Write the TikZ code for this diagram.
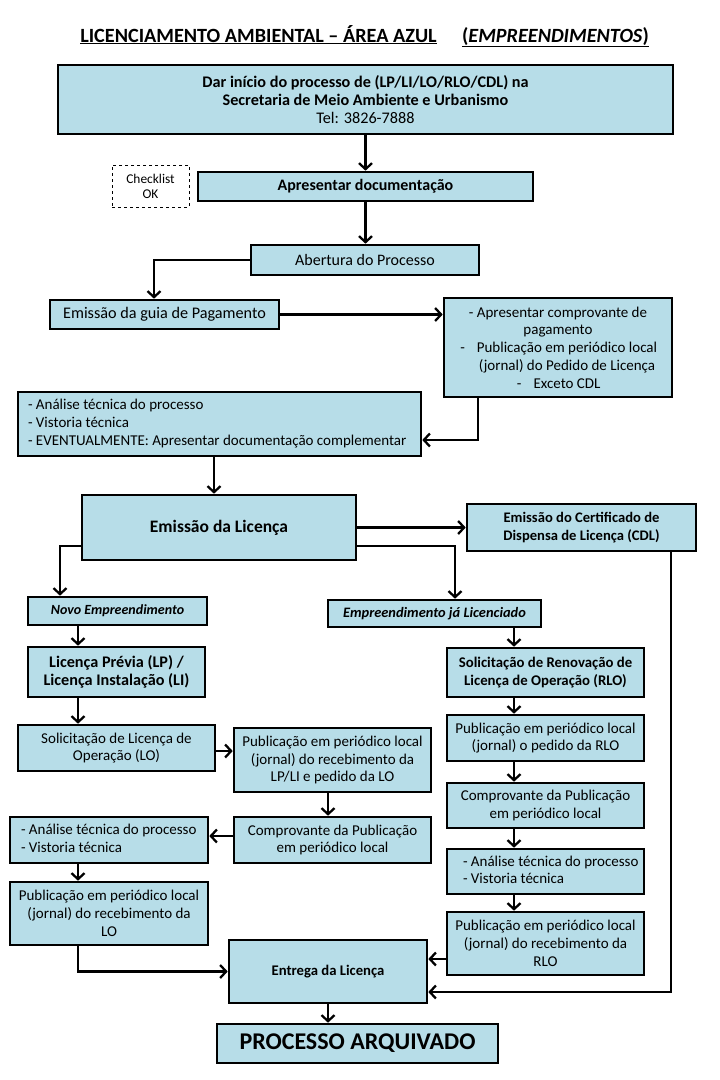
\documentclass[tikz,border=0pt]{standalone}
\usepackage{fontspec}
\setmainfont{Carlito}
\usetikzlibrary{arrows.meta}
\definecolor{boxblue}{HTML}{B7DDE8}
\newcommand{\fs}[2]{\fontsize{#1}{#2}\selectfont}
\newcommand{\lefttab}[2]{\makebox[#1][l]{\begin{tabular}{@{}l@{}}#2\end{tabular}}}
\begin{document}
\begin{tikzpicture}[x=1pt,y=-1pt,
  box/.style={draw=black, line width=2.6pt, fill=boxblue, inner sep=0pt, align=center, font=\fs{15}{17.8}},
  dbox/.style={draw=black, line width=0.8pt, dashed, fill=white, inner sep=0pt, align=center, font=\fs{13.4}{15}},
  conn/.style={line width=2.4pt, -{Straight Barb[length=6pt,width=13pt,line width=2.3pt]}},
  ttl/.style={font=\bfseries\fs{20.2}{22}, anchor=base, inner sep=0pt}
]
\useasboundingbox[fill=white] (0,0) rectangle (720,1080);

% title
\node[ttl] (t1) at (258.5,42) {\underline{LICENCIAMENTO AMBIENTAL -- ÁREA AZUL}};
\node[ttl] (t2) at (555.5,42) {\underline{(\textit{EMPREENDIMENTOS})}};

% boxes
\node[box, minimum width=615, minimum height=69, font=\fs{16.2}{18.3}] (b1) at (365.5,99.5)
  {\textbf{Dar início do processo de (LP/LI/LO/RLO/CDL) na}\\\textbf{Secretaria de Meio Ambiente e Urbanismo}\\Tel: 3826-7888};
\node[dbox, minimum width=77, minimum height=42] (chk) at (150.5,186) {Checklist\\OK};
\node[box, minimum width=335, minimum height=29, font=\bfseries\fs{16}{18}] (b2) at (365.5,186.5) {Apresentar documentação};
\node[box, minimum width=228, minimum height=30, font=\fs{16}{18}] (b3) at (365,260) {Abertura do Processo};
\node[box, minimum width=229, minimum height=29, font=\fs{16.2}{18}] (b4) at (164.5,314.5) {Emissão da guia de Pagamento};
\node[box, minimum width=228, minimum height=99] (b5) at (558,347.5)
  {- Apresentar comprovante de\\pagamento\\
   \hspace*{18pt}\llap{-\hspace{12pt}}Publicação em periódico local\\
   \hspace*{18pt}(jornal) do Pedido de Licença\\
   \hspace*{18pt}\llap{-\hspace{12pt}}Exceto CDL};
\node[box, minimum width=403, minimum height=64] (b6) at (219.5,424)
  {\lefttab{383pt}{- Análise técnica do processo\\- Vistoria técnica\\- EVENTUALMENTE: Apresentar documentação complementar}};
\node[box, minimum width=274, minimum height=65, font=\bfseries\fs{17.5}{20}] (b7) at (219,527.5) {Emissão da Licença};
\node[box, minimum width=229, minimum height=47, font=\bfseries\fs{14.6}{17.5}] (b8) at (581.5,527.5)
  {Emissão do Certificado de\\Dispensa de Licença (CDL)};
\node[box, minimum width=179, minimum height=28, font=\bfseries\itshape\fs{14}{17}] (novo) at (117.5,611) {Novo Empreendimento};
\node[box, minimum width=213, minimum height=27, font=\bfseries\itshape\fs{14.4}{17}] (ja) at (434.5,613.5) {Empreendimento já Licenciado};
\node[box, minimum width=177, minimum height=50, font=\bfseries\fs{16.2}{18.3}] (lp) at (116.5,672)
  {Licença Prévia (LP) /\\Licença Instalação (LI)};
\node[box, minimum width=197, minimum height=49, font=\bfseries\fs{14.8}{17.8}] (rlo) at (545.5,672.5)
  {Solicitação de Renovação de\\Licença de Operação (RLO)};
\node[box, minimum width=197, minimum height=46] (solLO) at (116.5,748) {Solicitação de Licença de\\Operação (LO)};
\node[box, minimum width=197, minimum height=64] (pubLP) at (332.5,760)
  {Publicação em periódico local\\(jornal) do recebimento da\\LP/LI e pedido da LO};
\node[box, minimum width=197, minimum height=46] (compL) at (332.5,840) {Comprovante da Publicação\\em periódico local};
\node[box, minimum width=198, minimum height=46] (anaL) at (109,840)
  {\lefttab{176pt}{- Análise técnica do processo\\- Vistoria técnica}};
\node[box, minimum width=198, minimum height=63] (pubLO) at (109,913.5)
  {Publicação em periódico local\\(jornal) do recebimento da\\LO};
\node[box, minimum width=197, minimum height=46] (pubR) at (545.5,738) {Publicação em periódico local\\(jornal) o pedido da RLO};
\node[box, minimum width=197, minimum height=45] (compR) at (545.5,805.5) {Comprovante da Publicação\\em periódico local};
\node[box, minimum width=197, minimum height=45] (anaR) at (545.5,871.5)
  {\lefttab{165pt}{- Análise técnica do processo\\- Vistoria técnica}};
\node[box, minimum width=197, minimum height=63] (pubRR) at (545.5,943.5)
  {Publicação em periódico local\\(jornal) do recebimento da\\RLO};
\node[box, minimum width=198, minimum height=63, font=\bfseries\fs{14.7}{17}] (entrega) at (328,971.5) {Entrega da Licença};
\node[box, minimum width=281, minimum height=39, font=\bfseries\fs{24}{27}] (arq) at (357.5,1043.5) {PROCESSO ARQUIVADO};

% connectors
\draw[conn] (b1.south) -- (b1.south |- b2.north);
\draw[conn] (b2.south) -- (b2.south |- b3.north);
\draw[conn] (b3.west) -| ([xshift=-10.5pt]b4.north);
\draw[conn] (b4.east) -- (b4.east -| b5.west);
\draw[conn] ([xshift=-80pt]b5.south) |- ([yshift=-16pt]b6.east);
\draw[conn] ([xshift=-5.5pt]b6.south) -- ([xshift=-5.5pt]b6.south |- b7.north);
\draw[conn] (b7.east) -- (b7.east -| b8.west);
\draw[conn] ([yshift=-18.5pt]b7.west) -| ([xshift=-57.5pt]novo.north);
\draw[conn] ([yshift=-18.5pt]b7.east) -| ([xshift=20.5pt]ja.north);
\draw[conn] ([xshift=-39.5pt]novo.south) -- ([xshift=-39.5pt]novo.south |- lp.north);
\draw[conn] ([xshift=79.5pt]ja.south) -- ([xshift=79.5pt]ja.south |- rlo.north);
\draw[conn] ([xshift=-38.5pt]lp.south) -- ([xshift=-38.5pt]lp.south |- solLO.north);
\draw[conn] ([yshift=-3pt]solLO.east) -- ([yshift=-3pt]solLO.east -| pubLP.west);
\draw[conn] ([xshift=-4.5pt]pubLP.south) -- ([xshift=-4.5pt]pubLP.south |- compL.north);
\draw[conn] ([yshift=4pt]compL.west) -- ([yshift=4pt]compL.west -| anaL.east);
\draw[conn] ([xshift=-31pt]anaL.south) -- ([xshift=-31pt]anaL.south |- pubLO.north);
\draw[conn] ([xshift=-31pt]pubLO.south) |- (entrega.west);
\draw[conn] ([xshift=-31.5pt]rlo.south) -- ([xshift=-31.5pt]rlo.south |- pubR.north);
\draw[conn] ([xshift=-31.5pt]pubR.south) -- ([xshift=-31.5pt]pubR.south |- compR.north);
\draw[conn] ([xshift=-31.5pt]compR.south) -- ([xshift=-31.5pt]compR.south |- anaR.north);
\draw[conn] ([xshift=-31.5pt]anaR.south) -- ([xshift=-31.5pt]anaR.south |- pubRR.north);
\draw[conn] ([yshift=-15.5pt]pubRR.west) -- ([yshift=-15.5pt]pubRR.west -| entrega.east);
\draw[conn] ([xshift=89.5pt]b8.south) |- ([yshift=-20.5pt]entrega.east);
\draw[conn] (entrega.south) -- (entrega.south |- arq.north);
\end{tikzpicture}
\end{document}
